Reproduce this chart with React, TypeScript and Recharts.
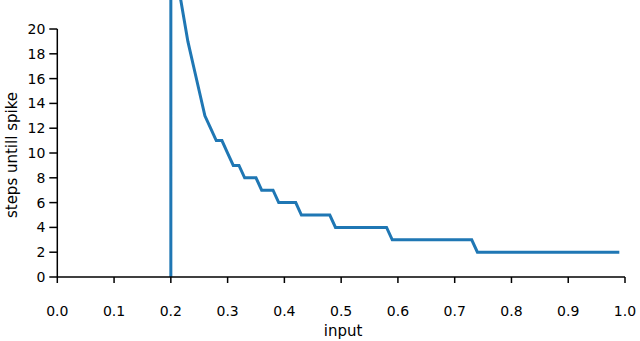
import React from 'react';
import { LineChart, Line, XAxis, YAxis, ReferenceLine } from 'recharts';

// input value -> steps until the first spike (breakpoints of the curve)
const inputs = [0.2, 0.2, 0.23, 0.24, 0.25, 0.26, 0.27, 0.28, 0.29, 0.3, 0.31, 0.32, 0.33, 0.35, 0.36, 0.38, 0.39, 0.42, 0.43, 0.48, 0.49, 0.58, 0.59, 0.73, 0.74, 0.99];
const steps = [0, 27, 19, 17, 15, 13, 12, 11, 11, 10, 9, 9, 8, 8, 7, 7, 6, 6, 5, 5, 4, 4, 3, 3, 2, 2];

const xTicks = [0, 0.1, 0.2, 0.3, 0.4, 0.5, 0.6, 0.7, 0.8, 0.9, 1.0];
const yTicks = [0, 2, 4, 6, 8, 10, 12, 14, 16, 18, 20];

const Y_MAX = 22.34;
const FONT = '"DejaVu Sans", Verdana, sans-serif';

const data = inputs.map((x, i) => ({ input: x, steps: steps[i] }));

const YLabel = (props: any) => {
    const vb = props.viewBox || {};
    const cy = vb.y + vb.height * (1 - 10 / Y_MAX) + 2;
    return (
        <text
            x={12}
            y={cy}
            transform={`rotate(-90, 12, ${cy})`}
            textAnchor="middle"
            dominantBaseline="central"
            fontSize={15}
            fontFamily={FONT}
            fill="#000"
        >
            steps untill spike
        </text>
    );
};

const XTick = (props: any) => {
    const { x, y, payload } = props;
    return (
        <text x={x} y={y + 11} textAnchor="middle" fontSize={14} fontFamily={FONT} fill="#000">
            {Number(payload.value).toFixed(1)}
        </text>
    );
};

const YTick = (props: any) => {
    const { x, y, payload } = props;
    return (
        <text x={x} y={y} dy={5} textAnchor="end" fontSize={14} fontFamily={FONT} fill="#000">
            {payload.value}
        </text>
    );
};

const App: React.FC = () => {
    return (
        <div style={{ position: 'absolute', left: 0, top: 0, width: 640, height: 341, background: '#fff' }}>
            <LineChart width={640} height={341} data={data} margin={{ top: 0, right: 15, bottom: 0, left: 0 }}>
                <XAxis
                    dataKey="input"
                    type="number"
                    domain={[0, 1]}
                    ticks={xTicks}
                    height={64}
                    tickSize={6}
                    tickMargin={22}
                    stroke="#000"
                    strokeWidth={1.5}
                    tick={<XTick />}
                    label={{ value: 'input', position: 'insideBottom', offset: 5, dx: 2, fill: '#000', fontSize: 15, fontFamily: FONT }}
                />
                <YAxis
                    type="number"
                    domain={[0, Y_MAX]}
                    allowDataOverflow
                    ticks={yTicks}
                    width={57.3}
                    tickSize={8}
                    tickMargin={4}
                    axisLine={false}
                    stroke="#000"
                    strokeWidth={1.5}
                    tick={<YTick />}
                    label={<YLabel />}
                />
                <ReferenceLine segment={[{ x: 0, y: 0 }, { x: 0, y: 20 }]} stroke="#000" strokeWidth={1.5} />
                <Line
                    type="linear"
                    dataKey="steps"
                    stroke="#1f77b4"
                    strokeWidth={3}
                    dot={false}
                    activeDot={false}
                    isAnimationActive={false}
                />
            </LineChart>
        </div>
    );
};

export default App;
